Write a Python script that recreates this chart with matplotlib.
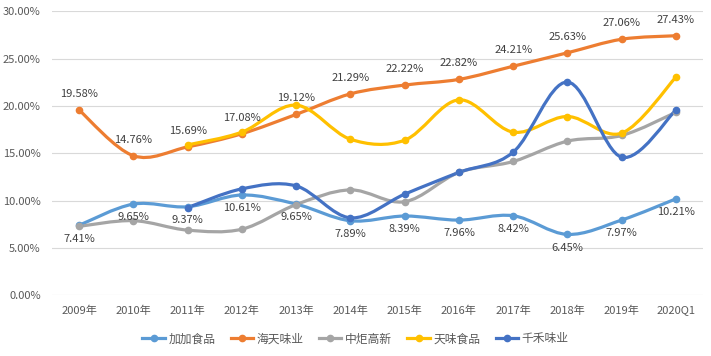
import matplotlib.pyplot as plt
from matplotlib.path import Path
from matplotlib.patches import PathPatch
from matplotlib.lines import Line2D

plt.rcParams['font.family'] = ['Noto Sans CJK SC', 'DejaVu Sans']

years = ['2009年', '2010年', '2011年', '2012年', '2013年', '2014年',
         '2015年', '2016年', '2017年', '2018年', '2019年', '2020Q1']

jiajia = [7.41, 9.65, 9.37, 10.61, 9.65, 7.89, 8.39, 7.96, 8.42, 6.45, 7.97, 10.21]
haitian = [19.58, 14.76, 15.69, 17.08, 19.12, 21.29, 22.22, 22.82, 24.21, 25.63, 27.06, 27.43]
zhongju = [7.3, 7.9, 6.9, 7.0, 9.6, 11.15, 9.9, 13.0, 14.15, 16.3, 16.9, 19.35]
tianwei = [None, None, 15.9, 17.25, 20.1, 16.5, 16.4, 20.66, 17.25, 18.9, 17.15, 23.07]
qianhe = [None, None, 9.28, 11.26, 11.57, 8.2, 10.7, 13.0, 15.14, 22.54, 14.6, 19.6]

names = ['加加食品', '海天味业', '中炬高新', '天味食品', '千禾味业']
series = [jiajia, haitian, zhongju, tianwei, qianhe]
colors = ['#5B9BD5', '#ED7D31', '#A5A5A5', '#FFC000', '#4472C4']


def smooth_path(xs, ys):
    # Bezier segments through the points, like Excel's smoothed line
    n = len(xs)
    verts = [(xs[0], ys[0])]
    codes = [Path.MOVETO]
    for i in range(n - 1):
        x0, y0 = xs[max(i - 1, 0)], ys[max(i - 1, 0)]
        x1, y1 = xs[i], ys[i]
        x2, y2 = xs[i + 1], ys[i + 1]
        x3, y3 = xs[min(i + 2, n - 1)], ys[min(i + 2, n - 1)]
        c1 = (x1 + (x2 - x0) / 6, y1 + (y2 - y0) / 6)
        c2 = (x2 - (x3 - x1) / 6, y2 - (y3 - y1) / 6)
        verts += [c1, c2, (x2, y2)]
        codes += [Path.CURVE4] * 3
    return Path(verts, codes)


fig = plt.figure(figsize=(7.11, 3.56), dpi=100)
ax = fig.add_axes([0.073, 0.170, 0.916, 0.798])

for vals, c in zip(series, colors):
    xs = [i for i, v in enumerate(vals) if v is not None]
    ys = [v / 100 for v in vals if v is not None]
    ax.add_patch(PathPatch(smooth_path(xs, ys), fill=False, edgecolor=c,
                           lw=2.3, capstyle='round', joinstyle='round', zorder=3))
    ax.plot(xs, ys, 'o', color=c, ms=4.5, zorder=4)

for i, v in enumerate(haitian):
    ax.annotate(f'{v:.2f}%', (i, v / 100), xytext=(0, 8), textcoords='offset points',
                ha='center', va='bottom', fontsize=8, color='#404040', zorder=5)
for i, v in enumerate(jiajia):
    ax.annotate(f'{v:.2f}%', (i, v / 100), xytext=(0, -6), textcoords='offset points',
                ha='center', va='top', fontsize=8, color='#404040', zorder=5)

ax.set_xlim(-0.5, len(years) - 0.5)
ax.set_ylim(0, 0.30)
ax.set_yticks([i * 0.05 for i in range(7)])
ax.set_yticklabels([f'{i * 5:.2f}%' for i in range(7)])
ax.set_xticks(range(len(years)))
ax.set_xticklabels(years)
ax.tick_params(length=0, labelsize=8, labelcolor='#595959')
ax.tick_params(axis='x', pad=7)
ax.tick_params(axis='y', pad=8)
ax.grid(axis='y', color='#D9D9D9', lw=0.8)
ax.set_axisbelow(True)
for s in ax.spines.values():
    s.set_visible(False)

handles = [Line2D([], [], color=c, lw=2.3, marker='o', ms=4.5) for c in colors]
fig.legend(handles, names, loc='center', bbox_to_anchor=(0.5, 0.048), ncol=5,
           frameon=False, fontsize=8.5, labelcolor='#595959', handlelength=1.9,
           handletextpad=0.3, columnspacing=1.3)

fig.savefig('out.png', dpi=100)
